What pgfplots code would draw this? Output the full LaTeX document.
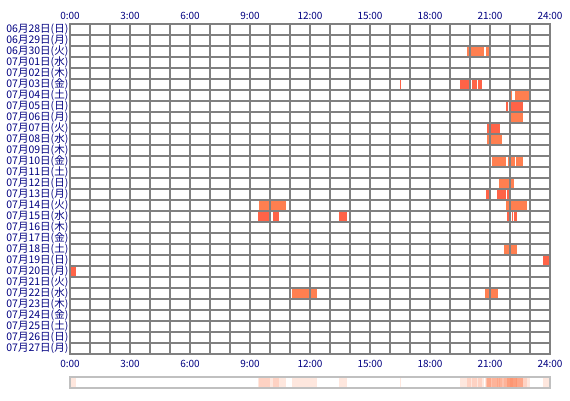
\documentclass[border=0pt]{standalone}
\usepackage{pgfplots}
\pgfplotsset{compat=1.18}
\usepackage{fontspec}
\setmainfont{Noto Sans CJK JP}
\definecolor{lab}{RGB}{0,0,128}
\definecolor{gridc}{RGB}{128,128,128}
\definecolor{ca}{RGB}{255,127,80}
\definecolor{cb}{RGB}{255,99,71}
\definecolor{cs}{RGB}{252,110,60}
\definecolor{sb}{RGB}{192,192,192}
% #1 start hour, #2 end hour, #3 bottom y, #4 top y, #5 colour
\newcommand{\ev}[5]{%
 \addplot[fill=#5,draw=none] coordinates {(#1,#3)(#2,#3)(#2,#4)(#1,#4)} --cycle;
 \addplot[fill=cs,fill opacity=0.17,draw=none] coordinates {(#1,-3.09)(#2,-3.09)(#2,-2.09)(#1,-2.09)} --cycle;
}
\begin{document}
\begin{tikzpicture}
\path[use as bounding box] (0,0) rectangle (570pt,-400pt);
\begin{axis}[
 at={(70pt,-24pt)}, anchor=north west,
 width=480pt, height=330pt, scale only axis,
 xmin=0, xmax=24, ymin=0, ymax=30,
 clip=false, axis on top,
 xtick={0,3,...,24},
 xticklabels={0:00,3:00,6:00,9:00,12:00,15:00,18:00,21:00,24:00},
 minor x tick num=2,
 ytick={0.5,1.5,...,29.5},
 yticklabels={07月27日(月),07月26日(日),07月25日(土),07月24日(金),07月23日(木),07月22日(水),07月21日(火),07月20日(月),07月19日(日),07月18日(土),07月17日(金),07月16日(木),07月15日(水),07月14日(火),07月13日(月),07月12日(日),07月11日(土),07月10日(金),07月09日(木),07月08日(水),07月07日(火),07月06日(月),07月05日(日),07月04日(土),07月03日(金),07月02日(木),07月01日(水),06月30日(火),06月29日(月),06月28日(日)},
 minor ytick={1,...,29},
 xmajorgrids, xminorgrids, yminorgrids,
 major tick length=0pt, minor tick length=0pt,
 grid style={gridc, line width=1.1pt},
 minor grid style={gridc, line width=1.1pt},
 axis line style={gridc, line width=1.1pt},
 tick label style={lab, font=\fontsize{10}{10}\selectfont},
 yticklabel style={inner sep=1.5pt, font=\fontsize{10.5}{10.5}\selectfont},
 xticklabel style={inner sep=0pt, yshift=-6pt},
]
% 06/30
\ev{19.85}{20.72}{27}{28}{ca}
\ev{20.8}{21.05}{27}{28}{ca}
% 07/03
\ev{16.5}{16.56}{24}{25}{cb}
\ev{19.5}{20.03}{24}{25}{cb}
\ev{20.08}{20.33}{24}{25}{cb}
\ev{20.4}{20.58}{24}{25}{cb}
% 07/04
\ev{22.05}{22.1}{23}{24}{ca}
\ev{22.25}{22.98}{23}{24}{ca}
% 07/05
\ev{21.8}{21.9}{22}{23}{cb}
\ev{21.93}{22.63}{22}{23}{cb}
% 07/06
\ev{22.03}{22.63}{21}{22}{ca}
% 07/07
\ev{20.85}{21.48}{20}{21}{cb}
% 07/08
\ev{20.85}{21.58}{19}{20}{ca}
% 07/10
\ev{21.1}{21.78}{17}{18}{ca}
\ev{21.9}{22.23}{17}{18}{ca}
\ev{22.3}{22.63}{17}{18}{ca}
% 07/12
\ev{21.45}{22.18}{15}{16}{ca}
% 07/13
\ev{20.8}{21.05}{14}{15}{cb}
\ev{21.35}{21.8}{14}{15}{cb}
\ev{21.85}{22.07}{14}{15}{cb}
% 07/14
\ev{9.45}{10.78}{13}{14}{ca}
\ev{21.8}{22.83}{13}{14}{ca}
% 07/15
\ev{9.4}{10.0}{12}{13}{cb}
\ev{10.15}{10.45}{12}{13}{cb}
\ev{13.45}{13.85}{12}{13}{cb}
\ev{21.85}{21.95}{12}{13}{cb}
\ev{22.0}{22.05}{12}{13}{cb}
\ev{22.1}{22.15}{12}{13}{cb}
\ev{22.2}{22.35}{12}{13}{cb}
% 07/18
\ev{21.7}{22.33}{9}{10}{ca}
% 07/19
\ev{23.65}{24}{8}{9}{cb}
% 07/20
\ev{0}{0.3}{7}{8}{cb}
% 07/22
\ev{11.1}{12.35}{5}{6}{ca}
\ev{20.75}{21.4}{5}{6}{ca}
% strip frame
\addplot[draw=sb, line width=1.2pt] coordinates {(0,-3.09)(24,-3.09)(24,-2.09)(0,-2.09)} --cycle;
\end{axis}
\begin{axis}[
 at={(70pt,-24pt)}, anchor=north west,
 width=480pt, height=330pt, scale only axis,
 xmin=0, xmax=24, ymin=0, ymax=30,
 hide y axis, axis x line*=top,
 axis line style={draw=none},
 xtick={0,3,...,24},
 xticklabels={0:00,3:00,6:00,9:00,12:00,15:00,18:00,21:00,24:00},
 major tick length=0pt,
 tick style={draw=none},
 tick label style={lab, font=\fontsize{10}{10}\selectfont},
 xticklabel style={inner sep=0pt, yshift=4pt},
]
\end{axis}
\end{tikzpicture}
\end{document}
